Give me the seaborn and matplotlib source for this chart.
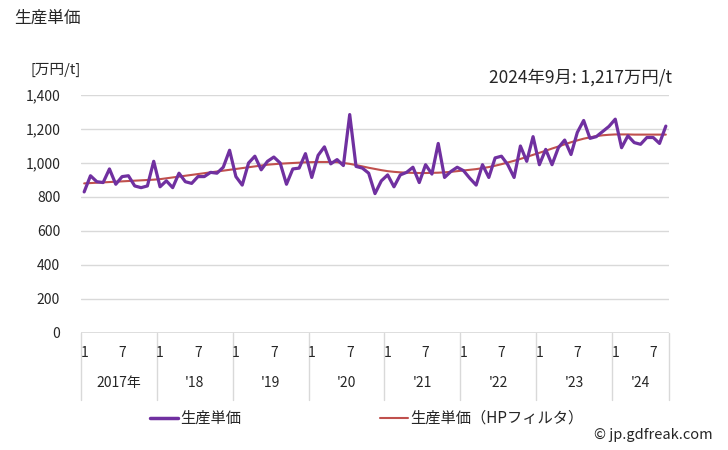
import numpy as np
import pandas as pd
import matplotlib
matplotlib.use("Agg")
import matplotlib.pyplot as plt
import matplotlib.transforms as mtransforms
from matplotlib.lines import Line2D
import seaborn as sns

# monthly unit production price, Jan 2017 - Sep 2024 [万円/t]
years = [2017, 2018, 2019, 2020, 2021, 2022, 2023, 2024]
year_labels = ["2017年", "'18", "'19", "'20", "'21", "'22", "'23", "'24"]
price = [
    830, 925, 890, 885, 965, 875, 920, 925, 865, 855, 865, 1010,     # 2017
    860, 895, 855, 940, 890, 880, 920, 920, 945, 940, 975, 1075,     # 2018
    920, 870, 1000, 1040, 960, 1010, 1035, 1000, 875, 965, 970, 1055,  # 2019
    915, 1045, 1095, 995, 1020, 985, 1285, 980, 970, 940, 820, 895,  # 2020
    930, 860, 930, 945, 975, 885, 990, 935, 1115, 915, 950, 975,     # 2021
    955, 910, 870, 990, 915, 1030, 1040, 990, 915, 1100, 1010, 1155,  # 2022
    990, 1080, 990, 1090, 1135, 1050, 1180, 1250, 1145, 1155, 1185, 1215,  # 2023
    1258, 1090, 1160, 1120, 1110, 1150, 1150, 1115, 1217,            # 2024
]
# HP filter trend
trend = [
    880, 882, 884, 886, 888, 890, 892, 894, 896, 898, 900, 902,
    905, 910, 915, 920, 925, 930, 935, 940, 945, 950, 955, 960,
    965, 970, 975, 980, 985, 990, 993, 996, 998, 1000, 1002, 1004,
    1005, 1006, 1006, 1006, 1005, 1000, 995, 988, 980, 972, 965, 958,
    952, 948, 945, 943, 942, 941, 941, 942, 943, 945, 948, 952,
    956, 960, 964, 970, 976, 984, 993, 1003, 1013, 1024, 1036, 1048,
    1060, 1072, 1085, 1097, 1110, 1122, 1133, 1143, 1151, 1158, 1163, 1166,
    1168, 1168, 1168, 1167, 1167, 1167, 1167, 1167, 1167,
]

df = pd.DataFrame({"idx": np.arange(len(price)), "price": price, "trend": trend})

sns.set_theme(style="white")
plt.rcParams["font.family"] = ["Noto Sans CJK JP", "DejaVu Sans"]

purple = "#7030A0"
red = "#C0504D"

fig = plt.figure(figsize=(7.28, 4.5), dpi=100)
ax = fig.add_axes([81 / 728, 1 - 333 / 450, 588 / 728, 238 / 450])

sns.lineplot(data=df, x="idx", y="trend", ax=ax, color=red, linewidth=1.5)
sns.lineplot(data=df, x="idx", y="price", ax=ax, color=purple, linewidth=2.3)

n = len(price)
ax.set_xlim(-0.5, n - 0.5)
ax.set_ylim(0, 1400)
ax.set_yticks(range(0, 1401, 200))
ax.set_yticklabels([f"{v:,}" for v in range(0, 1401, 200)], fontsize=10)
ax.tick_params(axis="y", length=0, pad=15)
ax.yaxis.grid(True, color="#D9D9D9", linewidth=1)
ax.set_axisbelow(True)
for s in ax.spines.values():
    s.set_visible(False)
ax.axhline(0, color="#D9D9D9", linewidth=1.2)
ax.set_xticks([])
ax.set_xlabel("")
ax.set_ylabel("")

# category axis below the plot
tr = mtransforms.blended_transform_factory(ax.transData, ax.transAxes)
bottom = -(400 - 333) / 238
for k in range(len(years) + 1):
    xb = min(12 * k - 0.5, n - 0.5)
    ax.plot([xb, xb], [0, bottom], transform=tr, color="#D9D9D9",
            linewidth=1, clip_on=False)
for k, lab in enumerate(year_labels):
    start = 12 * k
    for m in (0, 6):
        if start + m < n:
            ax.text(start + m, -(353 - 333) / 238, str(m + 1), transform=tr,
                    ha="center", va="center", fontsize=10)
    x0 = 12 * k - 0.5
    x1 = min(12 * k + 11.5, n - 0.5)
    ax.text((x0 + x1) / 2, -(383 - 333) / 238, lab, transform=tr,
            ha="center", va="center", fontsize=10)

# texts
fig.text(14 / 728, 1 - 18 / 450, "生産単価", fontsize=12, ha="left", va="center")
fig.text(30 / 728, 1 - 70 / 450, "[万円/t]", fontsize=10.5, ha="left", va="center")
fig.text(672 / 728, 1 - 78 / 450, "2024年9月: 1,217万円/t", fontsize=12.5,
         ha="right", va="center")

# legend
ly = 1 - 418 / 450
fig.add_artist(Line2D([150 / 728, 178 / 728], [ly, ly], color=purple, linewidth=2.5))
fig.text(180 / 728, ly, "生産単価", fontsize=11, ha="left", va="center")
fig.add_artist(Line2D([380 / 728, 408 / 728], [ly, ly], color=red, linewidth=1.5))
fig.text(410 / 728, ly, "生産単価（HPフィルタ）", fontsize=11, ha="left", va="center")

fig.text(713 / 728, 1 - 435 / 450, "© jp.gdfreak.com", fontsize=10.5,
         ha="right", va="center")

fig.savefig("out.png", dpi=100)
